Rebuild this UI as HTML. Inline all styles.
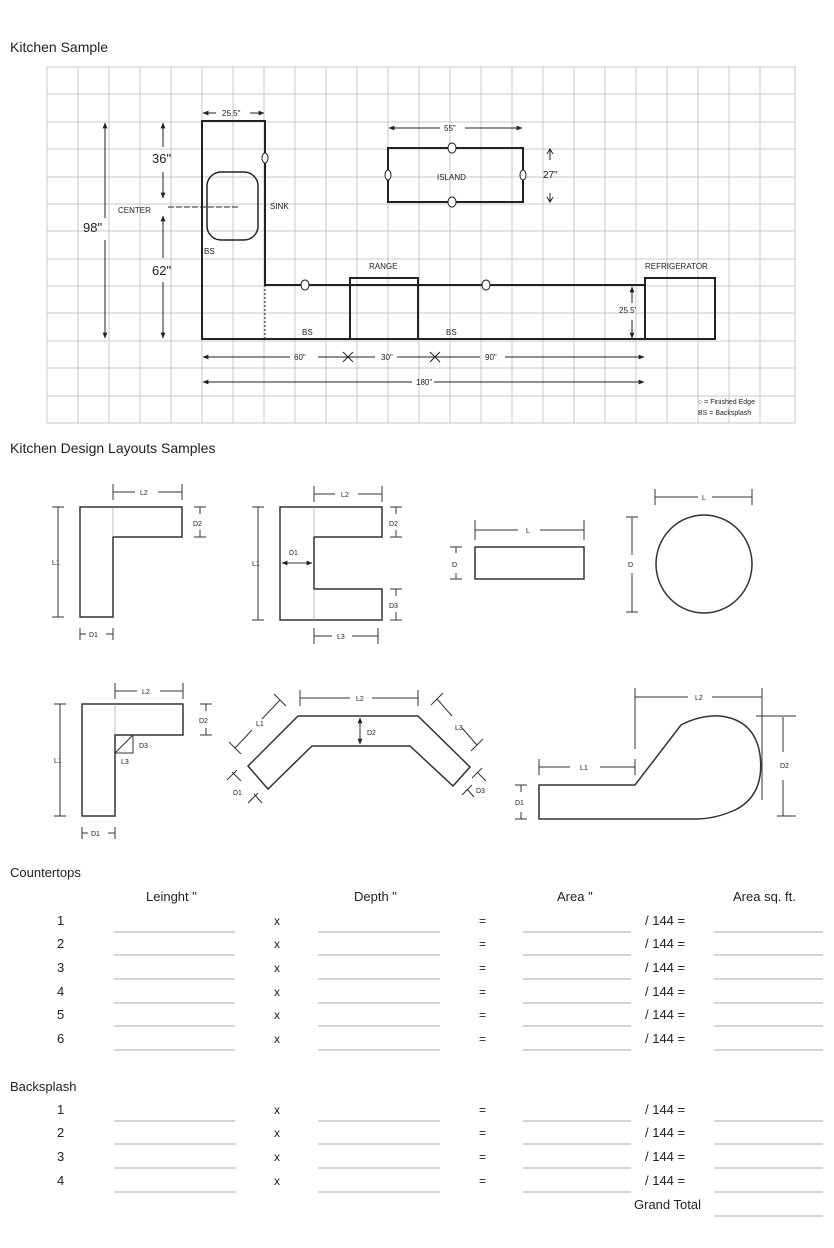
<!DOCTYPE html>
<html><head><meta charset="utf-8"><style>
html,body{margin:0;padding:0;background:#fff}
svg{display:block}
text{font-family:"Liberation Sans",sans-serif;fill:#222}
</style></head><body>
<svg width="834" height="1248" viewBox="0 0 834 1248" xmlns="http://www.w3.org/2000/svg">
<defs>
<marker id="a" viewBox="0 0 10 10" refX="9" refY="5" markerWidth="6" markerHeight="6" orient="auto-start-reverse"><path d="M0,1 L10,5 L0,9 z" fill="#222"/></marker>
</defs>
<text x="10" y="52" font-size="14">Kitchen Sample</text>
<!-- grid -->
<g stroke="#c8c8c8" stroke-width="1">
<rect x="47" y="67" width="748" height="356" fill="none"/>
<path d="M78 67V423M109 67V423M140 67V423M171 67V423M202 67V423M233 67V423M264 67V423M295 67V423M326 67V423M357 67V423M388 67V423M419 67V423M450 67V423M481 67V423M512 67V423M543 67V423M574 67V423M605 67V423M636 67V423M667 67V423M698 67V423M729 67V423M760 67V423
M47 94H795M47 122H795M47 149H795M47 177H795M47 204H795M47 231H795M47 259H795M47 286H795M47 313H795M47 341H795M47 368H795M47 396H795"/>
</g>
<g stroke="#222" fill="none">
<path d="M202 121H265V285H645V339H202Z" stroke-width="2" fill="#fff" fill-opacity="0"/>
<path d="M265 285V339" stroke-dasharray="2 2" stroke-width="1"/>
<rect x="350" y="278" width="68" height="61" stroke-width="2"/>
<rect x="645" y="278" width="70" height="61" stroke-width="2"/>
<rect x="388" y="148" width="135" height="54" stroke-width="2"/>
<rect x="207" y="172" width="51" height="68" rx="14" stroke-width="1.5"/>
<path d="M168 207H238" stroke-width="1" stroke-dasharray="6 2"/>
<g stroke-width="1">
<ellipse cx="452" cy="148" rx="4" ry="5" fill="#fff"/><ellipse cx="452" cy="202" rx="4" ry="5" fill="#fff"/>
<ellipse cx="388" cy="175" rx="3" ry="5" fill="#fff"/><ellipse cx="523" cy="175" rx="3" ry="5" fill="#fff"/>
<ellipse cx="265" cy="158" rx="3" ry="5" fill="#fff"/><ellipse cx="305" cy="285" rx="4" ry="5" fill="#fff"/><ellipse cx="486" cy="285" rx="4" ry="5" fill="#fff"/>
</g>
<g stroke-width="1" marker-start="url(#a)" marker-end="url(#a)">
<path d="M203 113H216M250 113H264"/>
<path d="M389 128H440M465 128H522"/>
<path d="M105 123V218M105 240V338"/>
<path d="M163 123V147M163 172V198"/>
<path d="M163 216V258M163 282V338"/>
<path d="M632 287V303M632 320V338"/>
<path d="M203 357H290M318 357H375M397 357H480M505 357H644"/>
<path d="M203 382H412M434 382H644"/>
</g>
<path d="M550 149V160M550 193V202" stroke-width="1"/>
<path d="M547 154l3-5 3 5M547 197l3 5 3-5" stroke-width="1"/>
<path d="M343 352l10 10M353 352l-10 10M430 352l10 10M440 352l-10 10" stroke-width="1"/>
</g>
<g font-size="8">
<text x="118" y="213">CENTER</text><text x="270" y="209">SINK</text>
<text x="204" y="254">BS</text><text x="302" y="335">BS</text><text x="446" y="335">BS</text>
<text x="369" y="269">RANGE</text><text x="645" y="269">REFRIGERATOR</text>
<text x="437" y="180">ISLAND</text>
<text x="222" y="116">25.5"</text><text x="444" y="131">55"</text>
<text x="543" y="178" font-size="10">27"</text>
<text x="619" y="313">25.5'</text>
<text x="294" y="360">60"</text><text x="381" y="360">30"</text><text x="485" y="360">90"</text>
<text x="416" y="385">180"</text>
<text x="698" y="404" font-size="7">○ = Finished Edge</text>
<text x="698" y="415" font-size="7">BS = Backsplash</text>
</g>
<text x="83" y="232" font-size="13">98"</text>
<text x="152" y="163" font-size="13">36"</text>
<text x="152" y="275" font-size="13">62"</text>

<text x="10" y="453" font-size="14">Kitchen Design Layouts Samples</text>
<g stroke="#333" fill="none" stroke-width="1.5">
<!-- L shape -->
<path d="M80 507H182V537H113V617H80Z"/>
<path d="M113 507V537" stroke-width="0.6" stroke="#999"/>
<!-- U -->
<path d="M280 507H382V537H314V589H382V620H280Z"/>
<path d="M314 507V537M314 589V620" stroke-width="0.6" stroke="#999"/>
<rect x="475" y="547" width="109" height="32"/>
<ellipse cx="704" cy="564" rx="48" ry="49"/>
<!-- L with square -->
<path d="M82 704H183V735H115V816H82Z"/>
<path d="M115 704V735" stroke-width="0.6" stroke="#999"/>
<path d="M115 735H133V753H115ZM115 753L133 735" stroke-width="1"/>
<!-- angled -->
<path d="M248 766L298 716H418L470 767L453 786L410 746H312L268 789Z"/>
<!-- curve -->
<path d="M539 785H635L681 725Q700 715 720 716Q755 720 760 755Q765 795 735 810Q715 819 696 819H539Z"/>
</g>
<g stroke="#333" fill="none" stroke-width="1">
<path d="M58 507V617M52 507H64M52 617H64"/>
<path d="M113 492H135M158 492H182M113 484V500M182 484V500"/>
<path d="M200 507V514M200 530V537M194 507H206M194 537H206"/>
<path d="M80 634H86M106 634H113M80 628V640M113 628V640"/>
<path d="M258 507V620M252 507H264M252 620H264"/>
<path d="M282 563H312" marker-start="url(#a)" marker-end="url(#a)"/>
<path d="M314 494H335M358 494H382M314 486V502M382 486V502"/>
<path d="M396 507V514M396 530V537M390 507H402M390 537H402M396 589V596M396 612V620M390 589H402M390 620H402"/>
<path d="M314 636H332M352 636H378M314 628V644M378 628V644"/>
<path d="M475 530H518M540 530H584M475 520V540M584 520V540"/>
<path d="M456 547V553M456 573V579M450 547H462M450 579H462"/>
<path d="M655 497H698M712 497H752M655 489V505M752 489V505"/>
<path d="M632 517V555M632 573V612M626 517H638M626 612H638"/>
<path d="M60 704V816M54 704H66M54 816H66"/>
<path d="M115 691H137M160 691H183M115 683V699M183 683V699"/>
<path d="M206 704V711M206 728V735M200 704H212M200 735H212"/>
<path d="M82 833H88M108 833H115M82 827V839M115 827V839"/>
<path d="M300 698H350M372 698H418M300 690V706M418 690V706"/>
<path d="M360 718V744" marker-start="url(#a)" marker-end="url(#a)"/>
<path d="M235 748L252 730M262 719L280 700M229 742L241 754M274 694L286 706"/>
<path d="M437 699L452 716M462 728L477 745M431 705L443 693M471 751L483 739"/>
<path d="M232 772L241 781M254 794L262 803M227 780L237 770M248 803L258 793"/>
<path d="M477 772L486 781M467 789L474 797M472 778L482 768M462 795L472 785"/>
<path d="M635 697H688M712 697H762M635 688V749M762 688V800M756 716H796"/>
<path d="M539 767H570M600 767H635M539 759V775M635 759V775"/>
<path d="M783 717V752M783 780V816M777 816H796"/>
<path d="M521 785V792M521 812V819M515 785H527M515 819H527"/>
</g>
<g font-size="7">
<text x="140" y="495">L2</text><text x="193" y="526">D2</text><text x="52" y="565">L1</text><text x="89" y="637">D1</text>
<text x="289" y="555">D1</text><text x="341" y="497">L2</text><text x="389" y="526">D2</text><text x="389" y="608">D3</text><text x="252" y="566">L1</text><text x="337" y="639">L3</text>
<text x="526" y="533">L</text><text x="452" y="567">D</text>
<text x="702" y="500">L</text><text x="628" y="567">D</text>
<text x="142" y="694">L2</text><text x="199" y="723">D2</text><text x="54" y="763">L1</text><text x="91" y="836">D1</text>
<text x="139" y="748">D3</text><text x="121" y="764">L3</text>
<text x="356" y="701">L2</text><text x="367" y="735">D2</text><text x="256" y="726">L1</text><text x="455" y="730">L3</text>
<text x="233" y="795">D1</text><text x="476" y="793">D3</text>
<text x="695" y="700">L2</text><text x="580" y="770">L1</text><text x="780" y="768">D2</text><text x="515" y="805">D1</text>
</g>

<g font-size="13">
<text x="10" y="877">Countertops</text>
<text x="146" y="901">Leinght "</text><text x="354" y="901">Depth "</text><text x="557" y="901">Area "</text><text x="733" y="901">Area sq. ft.</text>
</g>
<g font-size="13" id="rows">
<text x="57" y="925">1</text><text x="57" y="948">2</text><text x="57" y="972">3</text><text x="57" y="996">4</text><text x="57" y="1019">5</text><text x="57" y="1043">6</text>
<text x="57" y="1114">1</text><text x="57" y="1137">2</text><text x="57" y="1161">3</text><text x="57" y="1185">4</text>
</g>
<g font-size="12">
<text x="274" y="925">x</text><text x="274" y="948">x</text><text x="274" y="972">x</text><text x="274" y="996">x</text><text x="274" y="1019">x</text><text x="274" y="1043">x</text>
<text x="274" y="1114">x</text><text x="274" y="1137">x</text><text x="274" y="1161">x</text><text x="274" y="1185">x</text>
<text x="479" y="925">=</text><text x="479" y="948">=</text><text x="479" y="972">=</text><text x="479" y="996">=</text><text x="479" y="1019">=</text><text x="479" y="1043">=</text>
<text x="479" y="1114">=</text><text x="479" y="1137">=</text><text x="479" y="1161">=</text><text x="479" y="1185">=</text>
</g>
<g font-size="13">
<text x="645" y="925">/ 144  =</text><text x="645" y="948">/ 144  =</text><text x="645" y="972">/ 144  =</text><text x="645" y="996">/ 144  =</text><text x="645" y="1019">/ 144  =</text><text x="645" y="1043">/ 144  =</text>
<text x="645" y="1114">/ 144  =</text><text x="645" y="1137">/ 144  =</text><text x="645" y="1161">/ 144  =</text><text x="645" y="1185">/ 144  =</text>
<text x="10" y="1091">Backsplash</text>
<text x="634" y="1209">Grand Total</text>
</g>
<g stroke="#aaa" stroke-width="1">
<path d="M114 932H235M318 932H440M523 932H631M714 932H823
M114 955H235M318 955H440M523 955H631M714 955H823
M114 979H235M318 979H440M523 979H631M714 979H823
M114 1003H235M318 1003H440M523 1003H631M714 1003H823
M114 1026H235M318 1026H440M523 1026H631M714 1026H823
M114 1050H235M318 1050H440M523 1050H631M714 1050H823
M114 1121H235M318 1121H440M523 1121H631M714 1121H823
M114 1144H235M318 1144H440M523 1144H631M714 1144H823
M114 1168H235M318 1168H440M523 1168H631M714 1168H823
M114 1192H235M318 1192H440M523 1192H631M714 1192H823
M714 1216H823"/>
</g>
</svg>
</body></html>
